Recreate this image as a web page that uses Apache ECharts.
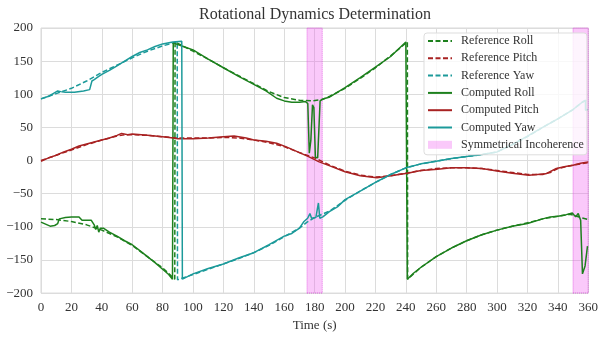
<!DOCTYPE html>
<html>
<head>
<meta charset="utf-8">
<script src="https://cdn.jsdelivr.net/npm/echarts@6/dist/echarts.min.js"></script>
<style>
  html, body { margin: 0; padding: 0; background: #fff; }
  #chart { width: 601px; height: 337px; }
</style>
</head>
<body>
<div id="chart"></div>
<script>
// [time (s), angle (deg)]
const refRoll = [[0,-88],[10,-89],[20,-92],[30,-97],[40,-105],[50,-115],[60,-128],[70,-145],[80,-162],[88,-179],[88.2,179],
  [100,165],[110,153],[120,140],[130,128],[140,116],[150,104],[160,95],[170,91],[178,90],[185,92],[190,97],[200,109],
  [210,124],[220,140],[230,158],[241,179],[241.2,-179],[250,-161],[260,-145],[270,-132],[280,-121],[290,-112],[300,-105],
  [310,-99],[320,-94],[330,-88],[340,-84],[348,-81],[355,-86],[360,-89]];
const refPitch = [[0,0],[10,8],[20,16],[30,24],[40,31],[50,37],[55,39],[60,39],[70,38],[80,36],[90,34],[100,34],[110,34],
  [120,35],[130,34],[140,31],[150,27],[160,21],[170,12],[180,4],[190,-7],[200,-16],[210,-22],[220,-25],[230,-23],[240,-19],
  [250,-15],[260,-12],[270,-11],[280,-11],[290,-12],[300,-15],[310,-18],[320,-21],[330,-21],[335,-18],[340,-12],[350,-7],[360,-3]];
const refYaw = [[0,93],[10,101],[20,109],[30,120],[40,133],[50,144],[60,155],[70,165],[80,173],[89.6,179],[89.8,-180],
  [100,-172],[110,-164],[120,-156],[130,-148],[140,-139],[150,-128],[160,-115],[170,-102],[175,-93],[180,-86],[190,-76],
  [200,-60],[210,-46],[220,-33],[230,-21],[240,-11],[250,-5],[260,-1],[270,3],[280,6],[290,9],[300,13],[310,24],[320,36],
  [330,50],[340,63],[350,77],[356,88],[360,92]];
const compRoll = [[0,-93],[3,-96],[6,-99],[9,-98],[11,-95],[12,-88],[13,-85],[16,-86],[20,-85],[25,-85],[27,-90],[33,-90],
  [35,-97],[36,-104],[37,-98],[38,-108],[39,-102],[41,-102],[45,-108],[50,-114],[55,-121],[60,-127],[65,-136],[70,-145],
  [75,-154],[80,-164],[84,-172],[86.5,-179],[87,178],[90,175],[95,171],[100,167],[110,153],[120,140],[130,127],[140,115],
  [148,105],[155,94],[160,90],[165,88],[170,88],[174,89],[175.5,86],[176.5,11],[177.5,30],[178.6,84],[179.5,80],[180.5,5],
  [182,4],[183.6,90],[185.5,93],[190,96],[200,110],[210,125],[220,141],[230,157],[240,179],[240.8,179],[241,-179],
  [245,-170],[250,-161],[260,-145],[270,-132],[280,-121],[290,-112],[300,-105],[310,-99],[320,-95],[330,-88],[335,-85],
  [340,-84],[345,-82],[349.5,-79],[351.7,-85],[353.4,-80],[355,-90],[356.2,-171],[357.9,-159],[359.5,-129]];
const compPitch = [[0,-1],[5,4],[10,8],[15,13],[20,17],[25,22],[30,25],[35,28],[40,31],[45,34],[50,38],[53,41],[57,39],
  [60,40],[70,38],[80,36],[87,34],[90,33],[100,33],[110,34],[120,36],[127,37],[135,34],[140,31],[148,29],[155,26],[161,21],
  [170,12],[176,6],[183,-2],[190,-8],[200,-17],[210,-23],[221,-26],[230,-23],[241,-19],[250,-15],[261,-13],[270,-11],
  [279,-11],[290,-12],[301,-16],[310,-19],[321,-22],[332,-20],[339,-12],[345,-9],[350,-7],[355,-4],[360,-2]];
const compYaw = [[0,93],[5,97],[8,101],[11,105],[13,104],[16,103],[22,103],[28,105],[32,107],[33.5,120],[35,122],[36,124],
  [38,127],[40,130],[45,136],[50,143],[55,150],[60,157],[65,163],[70,167],[75,172],[80,176],[86.7,179],[92.6,180],[93,-179],
  [100,-171],[110,-163],[120,-156],[130,-147],[140,-139],[150,-127],[160,-114],[165,-110],[170,-102],[173,-92],[175.4,-87],
  [176.9,-80],[178,-87],[179,-84],[180.8,-86],[182.5,-64],[183.4,-87],[185.4,-85],[189.7,-77],[195,-70],[200,-59],[210,-46],
  [220,-33],[230,-21],[240,-11],[250,-5],[260,-1],[270,3],[280,6],[290,9],[300,13],[310,24],[320,37],[330,50],[340,63],
  [350,77],[356,88],[357,89],[358.2,91],[358.2,76],[359.5,77]];
const incoherenceSpans = [[175, 185], [350, 360]];

const GREEN = '#1d801d';
const RED = '#a82222';
const TEAL = '#1c9a9a';
const PINK = 'rgba(240, 90, 240, 0.33)';
const FONT = 'Liberation Serif';
const DASH = [5, 2.5];

const chart = echarts.init(document.getElementById('chart'));

const lineSeries = (name, data, color, dashed) => ({
  name: name,
  type: 'line',
  data: data,
  symbol: 'none',
  animation: false,
  lineStyle: { color: color, width: 1.5, type: dashed ? DASH : 'solid' },
  itemStyle: { color: color },
});

const minusFmt = (v) => String(v).replace('-', '\u2212');

chart.setOption({
  animation: false,
  title: {
    text: 'Rotational Dynamics Determination',
    left: 315,
    textAlign: 'center',
    top: 7,
    padding: 0,
    textStyle: { fontFamily: FONT, fontSize: 16, fontWeight: 'normal', color: '#333' },
  },
  grid: { left: 41, right: 12, top: 28, bottom: 39, show: true, borderColor: '#d8d8d8', borderWidth: 1 },
  legend: {
    orient: 'vertical',
    left: 424,
    top: 33,
    padding: [2, 3, 4, 3],
    itemWidth: 24,
    itemHeight: 8,
    itemGap: 5.3,
    itemStyle: { opacity: 0 },
    backgroundColor: 'rgba(255,255,255,0.8)',
    borderColor: '#dddddd',
    borderWidth: 1,
    borderRadius: 3,
    textStyle: { fontFamily: FONT, fontSize: 12, color: '#333', padding: [0, 0, 0, 4] },
    data: [
      'Reference Roll', 'Reference Pitch', 'Reference Yaw',
      'Computed Roll', 'Computed Pitch', 'Computed Yaw',
      { name: 'Symmetrical Incoherence', icon: 'rect', itemStyle: { color: PINK, opacity: 1 } },
    ],
  },
  xAxis: {
    type: 'value',
    min: 0,
    max: 360,
    interval: 20,
    name: 'Time (s)',
    nameLocation: 'middle',
    nameGap: 22,
    nameTextStyle: { fontFamily: FONT, fontSize: 13, color: '#333' },
    axisLine: { show: false },
    axisTick: { show: false },
    axisLabel: { fontFamily: FONT, fontSize: 13, color: '#333', margin: 8 },
    splitLine: { lineStyle: { color: '#dcdcdc', width: 1 } },
  },
  yAxis: {
    type: 'value',
    min: -200,
    max: 200,
    interval: 50,
    axisLine: { show: false },
    axisTick: { show: false },
    axisLabel: { fontFamily: FONT, fontSize: 13, color: '#333', margin: 8, formatter: minusFmt },
    splitLine: { lineStyle: { color: '#dcdcdc', width: 1 } },
  },
  series: [
    {
      name: 'Symmetrical Incoherence',
      type: 'line',
      data: [],
      itemStyle: { color: PINK },
      markArea: {
        silent: true,
        itemStyle: { color: PINK, borderColor: 'rgba(220,60,220,0.7)', borderWidth: 1, borderType: 'dotted' },
        data: incoherenceSpans.map((s) => [{ xAxis: s[0] }, { xAxis: s[1] }]),
      },
    },
    lineSeries('Reference Roll', refRoll, GREEN, true),
    lineSeries('Reference Pitch', refPitch, RED, true),
    lineSeries('Reference Yaw', refYaw, TEAL, true),
    lineSeries('Computed Roll', compRoll, GREEN, false),
    lineSeries('Computed Pitch', compPitch, RED, false),
    lineSeries('Computed Yaw', compYaw, TEAL, false),
  ],
});
</script>
</body>
</html>
